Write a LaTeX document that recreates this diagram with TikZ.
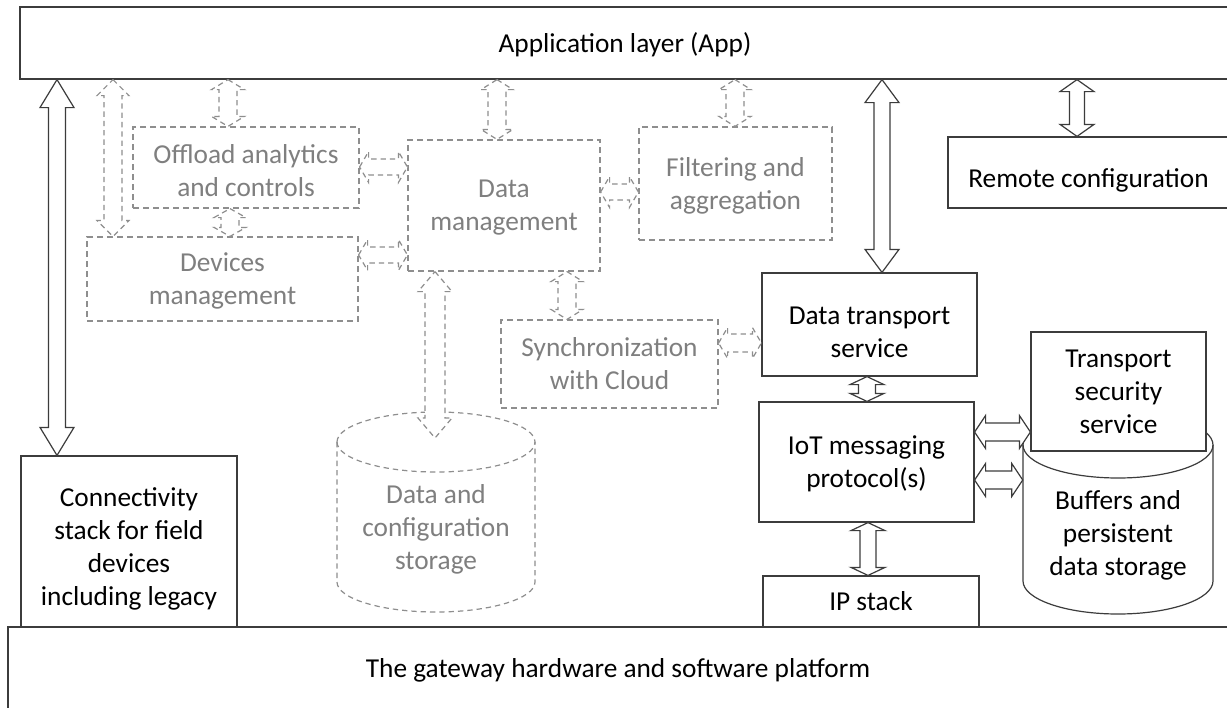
\documentclass[tikz,border=0pt]{standalone}
\usepackage{fontspec}
\setmainfont{Carlito}
\usetikzlibrary{calc}
\definecolor{linec}{HTML}{3C3C3C}
\definecolor{dashc}{HTML}{8E8E8E}
\definecolor{greytext}{HTML}{7F7F7F}
\newcommand\toppad[1]{\rule{0pt}{#1}}
% vertical double block arrow: #1 style, #2 x (px), #3 top anchor, #4 bottom anchor, #5 half shaft, #6 half head, #7 head length
\newcommand\VArr[7]{%
  \draw[#1] let \p1=(#3), \p2=(#4) in
  ({#2*0.75pt},\y1) -- ({(#2+#6)*0.75pt},{\y1-#7*0.75pt}) -- ({(#2+#5)*0.75pt},{\y1-#7*0.75pt})
  -- ({(#2+#5)*0.75pt},{\y2+#7*0.75pt}) -- ({(#2+#6)*0.75pt},{\y2+#7*0.75pt}) -- ({#2*0.75pt},\y2)
  -- ({(#2-#6)*0.75pt},{\y2+#7*0.75pt}) -- ({(#2-#5)*0.75pt},{\y2+#7*0.75pt})
  -- ({(#2-#5)*0.75pt},{\y1-#7*0.75pt}) -- ({(#2-#6)*0.75pt},{\y1-#7*0.75pt}) -- cycle;}
% horizontal double block arrow: #1 style, #2 y (px), #3 left anchor, #4 right anchor, #5 half shaft, #6 half head, #7 head length
\newcommand\HArr[7]{%
  \draw[#1] let \p1=(#3), \p2=(#4) in
  (\x1,{-#2*0.75pt}) -- ({\x1+#7*0.75pt},{(-#2+#6)*0.75pt}) -- ({\x1+#7*0.75pt},{(-#2+#5)*0.75pt})
  -- ({\x2-#7*0.75pt},{(-#2+#5)*0.75pt}) -- ({\x2-#7*0.75pt},{(-#2+#6)*0.75pt}) -- (\x2,{-#2*0.75pt})
  -- ({\x2-#7*0.75pt},{(-#2-#6)*0.75pt}) -- ({\x2-#7*0.75pt},{(-#2-#5)*0.75pt})
  -- ({\x1+#7*0.75pt},{(-#2-#5)*0.75pt}) -- ({\x1+#7*0.75pt},{(-#2-#6)*0.75pt}) -- cycle;}
\begin{document}
\begin{tikzpicture}[x=0.75pt,y=-0.75pt,
  corners/.style n args={4}{at={({(#1+#3)/2},{(#2+#4)/2})},
    minimum width={(#3-#1)*0.75pt}, minimum height={(#4-#2)*0.75pt}},
  box/.style={draw=linec, fill=white, line width=0.9pt, inner sep=0pt, align=center,
    text depth=0pt, font=\fontsize{20.5}{24.75}\selectfont, text=black},
  lowtext/.style={execute at begin node={\rule{0pt}{22.5pt}}},
  dbox/.style={box, draw=dashc, dash pattern=on 4.5pt off 3pt, text=greytext},
  txt/.style={inner sep=0pt, align=center, text depth=0pt, font=\fontsize{20.5}{24.75}\selectfont},
  sarr/.style={draw=linec, fill=white, line width=0.9pt},
  darr/.style={draw=dashc, fill=white, line width=0.9pt, dash pattern=on 4pt off 3pt}]
\useasboundingbox[fill=white] (0,0) rectangle (1227,707);

% solid boxes
\node[box, corners={8}{627}{1228}{709}] (plat) {The gateway hardware and software platform};
\node[box, corners={20}{7}{1230}{79}] (app) {Application layer (App)};
\node[box, corners={21}{456}{237}{627}] (conn) {\toppad{21pt}Connectivity\\stack for field\\devices\\including legacy};
\node[box, lowtext, corners={948}{137}{1229}{208}] (rc) {Remote configuration};
\node[box, corners={762}{273}{977}{376}] (dt) {\toppad{24pt}Data transport\\service};
\node[box, corners={759}{402}{974}{522}] (iot) {IoT messaging\\protocol(s)};
\node[box, corners={763}{576}{979}{627}] (ip) {IP stack};

% dashed boxes
\node[dbox, corners={133}{127}{359}{208}] (off) {\toppad{19pt}Offload analytics\\and controls};
\node[dbox, corners={87}{237}{358}{321}] (dev) {Devices\\management};
\node[dbox, corners={408}{140}{600}{271}] (dm) {Data\\management};
\node[dbox, corners={639}{127}{832}{240}] (filt) {Filtering and\\aggregation};
\node[dbox, corners={501}{320}{718}{408}] (sync) {Synchronization\\with Cloud};

% dashed storage cylinder
\draw[darr] (337,442) -- (337,582) arc[start angle=180, end angle=360, x radius=74.25pt, y radius=22.5pt]
  -- (535,442) arc[start angle=0, end angle=180, x radius=74.25pt, y radius=22.5pt] -- cycle;
\draw[darr, fill=none] (337,442) arc[start angle=180, end angle=360, x radius=74.25pt, y radius=22.5pt];
\node[txt, text=greytext, corners={337}{472}{535}{582}] (dcs) {Data and\\configuration\\storage};
\coordinate (dcstip) at (435,438);

% buffers cylinder
\draw[sarr] (1023,445) -- (1023,581) arc[start angle=180, end angle=360, x radius=71.25pt, y radius=24.75pt]
  -- (1213,445) arc[start angle=0, end angle=180, x radius=71.25pt, y radius=24.75pt] -- cycle;
\draw[sarr, fill=none] (1023,445) arc[start angle=180, end angle=360, x radius=71.25pt, y radius=24.75pt];
\node[txt, corners={1023}{485}{1213}{581}] (buf) {Buffers and\\persistent\\data storage};
\node[box, corners={1031}{332}{1206}{451}] (tss) {Transport\\security\\service};

% dashed arrows
\VArr{darr}{113}{app.south}{dev.north}{9}{16}{16}
\VArr{darr}{228}{app.south}{off.north}{9}{16.5}{10}
\VArr{darr}{230}{off.south}{dev.north}{9}{16}{9}
\HArr{darr}{167}{off.east}{dm.west}{8}{15.5}{9}
\HArr{darr}{255}{dev.east}{dm.west}{8}{15.5}{9}
\VArr{darr}{497}{app.south}{dm.north}{9}{16}{10}
\VArr{darr}{735}{app.south}{filt.north}{9}{16}{10}
\HArr{darr}{192}{dm.east}{filt.west}{8}{15.5}{9}
\VArr{darr}{567}{dm.south}{sync.north}{9}{16}{10}
\HArr{darr}{343}{sync.east}{dt.west}{9}{15.5}{9}
\VArr{darr}{435}{dm.south}{dcstip}{10}{17}{20}

% solid arrows
\VArr{sarr}{57}{app.south}{conn.north}{8.5}{17}{28}
\VArr{sarr}{882}{app.south}{dt.north}{8}{17}{23}
\VArr{sarr}{1077}{app.south}{rc.north}{7.5}{17}{12}
\VArr{sarr}{867}{dt.south}{iot.north}{8.5}{17}{8}
\VArr{sarr}{868}{iot.south}{ip.north}{8}{17}{8}
\HArr{sarr}{432}{iot.east}{tss.west}{9}{16.5}{11}
\HArr{sarr}{480}{iot.east}{buf.west}{9}{16.5}{11}
\end{tikzpicture}
\end{document}
